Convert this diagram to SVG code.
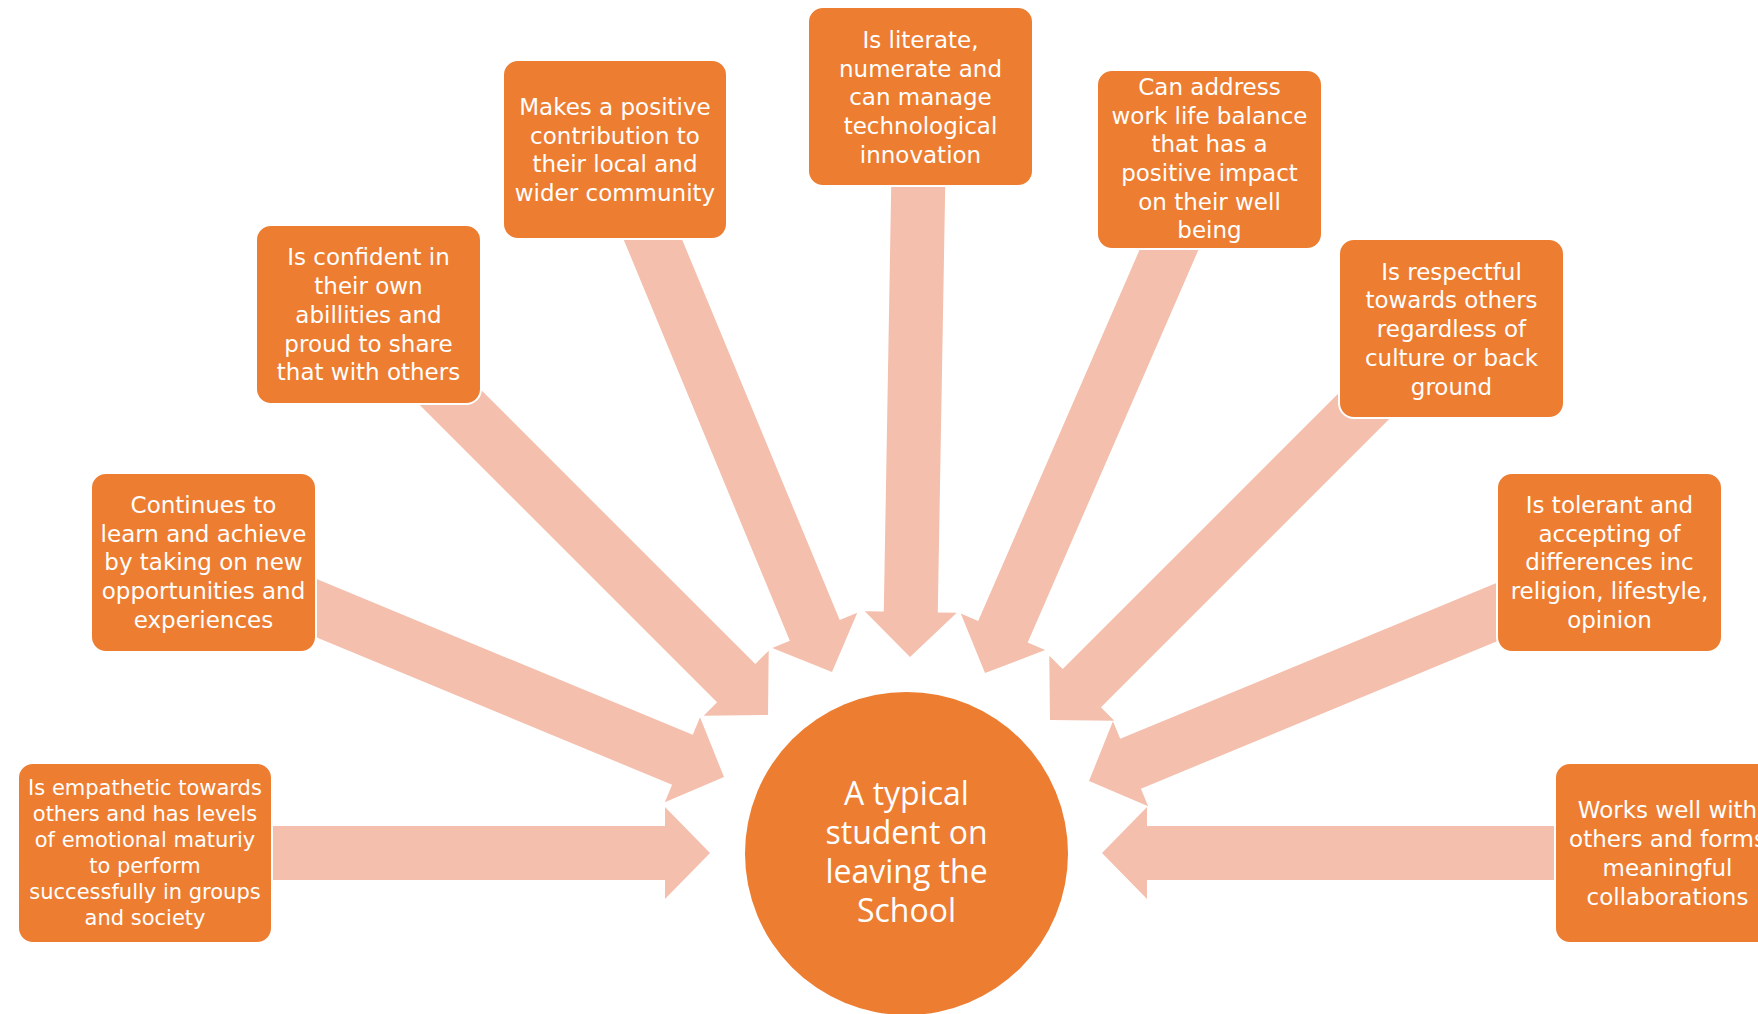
<svg xmlns="http://www.w3.org/2000/svg" xmlns:xlink="http://www.w3.org/1999/xlink" width="1758" height="1014" viewBox="0 0 1758 1014">
<style>
.box{fill:#ED7D31;stroke:#FFFFFF;stroke-width:2}
.arr{fill:#F4BFAD}
.t{font-family:"DejaVu Sans",Verdana,sans-serif;font-size:23px;fill:#FFFFFF;text-anchor:middle}
.ts{font-size:21px}
.c{font-family:"Open Sans","Lato",sans-serif;font-size:32px;fill:#FFFFFF;text-anchor:middle}
</style>
<defs>
<path id="arrow" d="M -520,-27 L -45,-27 L -45,-46 L 0,0 L -45,46 L -45,27 L -520,27 Z"/>
</defs>
<rect width="1758" height="1014" fill="#FFFFFF"/>
<g id="connectors" class="arr">
<use xlink:href="#arrow" transform="translate(710,853)"/>
<use xlink:href="#arrow" transform="translate(724,777) rotate(22.5)"/>
<use xlink:href="#arrow" transform="translate(768,715) rotate(45)"/>
<use xlink:href="#arrow" transform="translate(832,672) rotate(67.5)"/>
<use xlink:href="#arrow" transform="translate(910,657) rotate(91)"/>
<use xlink:href="#arrow" transform="translate(985,673) rotate(113.5)"/>
<use xlink:href="#arrow" transform="translate(1050,720) rotate(135)"/>
<use xlink:href="#arrow" transform="translate(1089,781) rotate(157.5)"/>
<use xlink:href="#arrow" transform="translate(1102,853) rotate(180)"/>
</g>
<g id="node-empathetic">
<rect class="box" x="18" y="763" width="254" height="180" rx="15"/>
<text class="t ts" x="145"><tspan x="145" y="795">Is empathetic towards</tspan><tspan x="145" y="821">others and has levels</tspan><tspan x="145" y="847">of emotional maturiy</tspan><tspan x="145" y="873">to perform</tspan><tspan x="145" y="899">successfully in groups</tspan><tspan x="145" y="925">and society</tspan></text>
</g>
<g id="node-continues">
<rect class="box" x="91" y="473" width="225" height="179" rx="15"/>
<text class="t"><tspan x="203.5" y="513">Continues to</tspan><tspan x="203.5" y="542">learn and achieve</tspan><tspan x="203.5" y="570">by taking on new</tspan><tspan x="203.5" y="599">opportunities and</tspan><tspan x="203.5" y="628">experiences</tspan></text>
</g>
<g id="node-confident">
<rect class="box" x="256" y="225" width="225" height="179" rx="15"/>
<text class="t"><tspan x="368.5" y="265">Is confident in</tspan><tspan x="368.5" y="294">their own</tspan><tspan x="368.5" y="323">abillities and</tspan><tspan x="368.5" y="352">proud to share</tspan><tspan x="368.5" y="380">that with others</tspan></text>
</g>
<g id="node-contribution">
<rect class="box" x="503" y="60" width="224" height="179" rx="15"/>
<text class="t"><tspan x="615" y="115">Makes a positive</tspan><tspan x="615" y="144">contribution to</tspan><tspan x="615" y="172">their local and</tspan><tspan x="615" y="201">wider community</tspan></text>
</g>
<g id="node-literate">
<rect class="box" x="808" y="7" width="225" height="179" rx="15"/>
<text class="t"><tspan x="920.5" y="48">Is literate,</tspan><tspan x="920.5" y="77">numerate and</tspan><tspan x="920.5" y="105">can manage</tspan><tspan x="920.5" y="134">technological</tspan><tspan x="920.5" y="163">innovation</tspan></text>
</g>
<g id="node-balance">
<rect class="box" x="1097" y="70" width="225" height="179" rx="15"/>
<text class="t"><tspan x="1209.5" y="95">Can address</tspan><tspan x="1209.5" y="124">work life balance</tspan><tspan x="1209.5" y="152">that has a</tspan><tspan x="1209.5" y="181">positive impact</tspan><tspan x="1209.5" y="210">on their well</tspan><tspan x="1209.5" y="238">being</tspan></text>
</g>
<g id="node-respectful">
<rect class="box" x="1339" y="239" width="225" height="179" rx="15"/>
<text class="t"><tspan x="1451.5" y="280">Is respectful</tspan><tspan x="1451.5" y="308">towards others</tspan><tspan x="1451.5" y="337">regardless of</tspan><tspan x="1451.5" y="366">culture or back</tspan><tspan x="1451.5" y="395">ground</tspan></text>
</g>
<g id="node-tolerant">
<rect class="box" x="1497" y="473" width="225" height="179" rx="15"/>
<text class="t"><tspan x="1609.5" y="513">Is tolerant and</tspan><tspan x="1609.5" y="542">accepting of</tspan><tspan x="1609.5" y="570">differences inc</tspan><tspan x="1609.5" y="599">religion, lifestyle,</tspan><tspan x="1609.5" y="628">opinion</tspan></text>
</g>
<g id="node-works">
<rect class="box" x="1555" y="763" width="225" height="180" rx="15"/>
<text class="t"><tspan x="1667.5" y="818">Works well with</tspan><tspan x="1667.5" y="847">others and forms</tspan><tspan x="1667.5" y="876">meaningful</tspan><tspan x="1667.5" y="905">collaborations</tspan></text>
</g>
<g id="node-student">
<circle cx="906.5" cy="853.5" r="161.5" fill="#ED7D31"/>
<text class="c"><tspan x="906.5" y="805">A typical</tspan><tspan x="906.5" y="844">student on</tspan><tspan x="906.5" y="883">leaving the</tspan><tspan x="906.5" y="922">School</tspan></text>
</g>
</svg>
